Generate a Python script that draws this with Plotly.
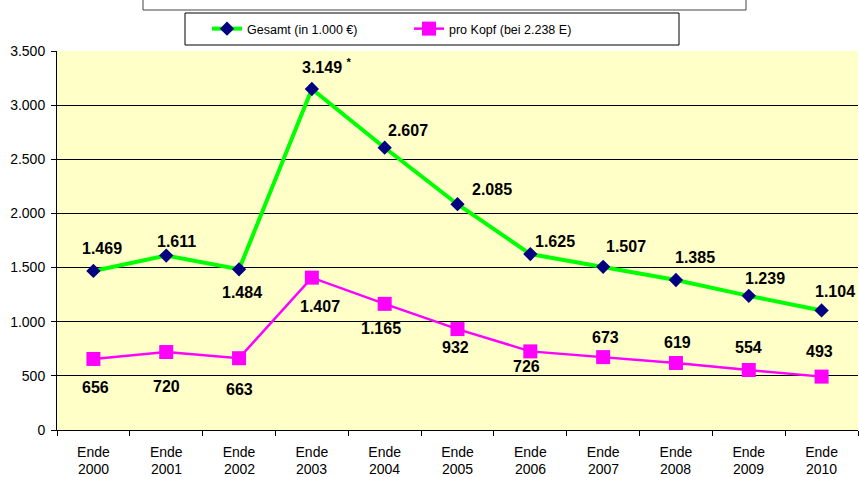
import plotly.graph_objects as go

years = ["2000", "2001", "2002", "2003", "2004", "2005", "2006", "2007", "2008", "2009", "2010"]
tick_prefix = ["Ende"] * len(years)
gesamt = [1469, 1611, 1484, 3149, 2607, 2085, 1625, 1507, 1385, 1239, 1104]
pro_kopf = [656, 720, 663, 1407, 1165, 932, 726, 673, 619, 554, 493]
gesamt_labels = ["1.469", "1.611", "1.484", "3.149 <sup>*</sup>", "2.607", "2.085",
                 "1.625", "1.507", "1.385", "1.239", "1.104"]
pro_kopf_labels = ["656", "720", "663", "1.407", "1.165", "932", "726", "673", "619", "554", "493"]
y_ticks = [0, 500, 1000, 1500, 2000, 2500, 3000, 3500]
y_tick_labels = ["0", "500", "1.000", "1.500", "2.000", "2.500", "3.000", "3.500"]

# label offsets in pixels (dx right, dy down)
g_off = [(9, -22), (10, -14), (3, 23), (15, -23), (23, -17), (34, -15),
         (25, -13), (23, -20), (19, -23), (16, -17), (13, -19)]
p_off = [(2, 29), (0, 34), (0, 31), (8, 29), (-4, 25), (-2, 18),
         (-4, 15), (2, -20), (2, -20), (0, -23), (-2, -25)]

FONT = "Liberation Sans, Arial, sans-serif"

fig = go.Figure()
fig.add_trace(go.Scatter(
    x=years, y=gesamt, name="Gesamt (in 1.000 €)", mode="lines+markers",
    line=dict(color="#00FF00", width=4),
    marker=dict(symbol="diamond", size=11, color="#000080"),
))
fig.add_trace(go.Scatter(
    x=years, y=pro_kopf, name="pro Kopf (bei 2.238 E)", mode="lines+markers",
    line=dict(color="#FF00FF", width=2.5),
    marker=dict(symbol="square", size=14, color="#FF00FF"),
))

annotations = []
# on a category axis, annotation x is the category index
for i, (v, t, (dx, dy)) in enumerate(zip(gesamt, gesamt_labels, g_off)):
    annotations.append(dict(x=i, y=v, xref="x", yref="y", text=t, showarrow=False,
                            xshift=dx, yshift=-dy,
                            font=dict(family=FONT, size=16, color="black", weight="bold")))
for i, (v, t, (dx, dy)) in enumerate(zip(pro_kopf, pro_kopf_labels, p_off)):
    annotations.append(dict(x=i, y=v, xref="x", yref="y", text=t, showarrow=False,
                            xshift=dx, yshift=-dy,
                            font=dict(family=FONT, size=16, color="black", weight="bold")))
# second line of the category labels (years)
for i, c in enumerate(years):
    annotations.append(dict(x=i, y=0, xref="x", yref="paper", text=c, showarrow=False,
                            yanchor="middle", yshift=-39, borderpad=0,
                            font=dict(family=FONT, size=14, color="black")))

W, H = 859, 477
ml, mr, mt, mb = 57, 1, 51, 47
pw, ph = W - ml - mr, H - mt - mb


def px_x(p):
    return (p - ml) / pw


def px_y(p):
    return (H - mb - p) / ph


shapes = [
    # cut-off title box
    dict(type="rect", xref="paper", yref="paper", x0=px_x(143), x1=px_x(746),
         y0=px_y(10), y1=px_y(-5), line=dict(color="#444", width=1), fillcolor="white", layer="above"),
    # legend box
    dict(type="rect", xref="paper", yref="paper", x0=px_x(185), x1=px_x(679),
         y0=px_y(45), y1=px_y(13), line=dict(color="black", width=1), fillcolor="rgba(0,0,0,0)", layer="above"),
]

fig.update_layout(
    width=W, height=H,
    margin=dict(l=ml, r=mr, t=mt, b=mb, autoexpand=False),
    paper_bgcolor="white", plot_bgcolor="#FFFFC8",
    font=dict(family=FONT, size=12, color="black"),
    showlegend=True,
    legend=dict(orientation="h", x=px_x(207), xanchor="left", y=px_y(29), yanchor="middle",
                bgcolor="rgba(0,0,0,0)", borderwidth=0, font=dict(size=12.5),
                entrywidth=157, entrywidthmode="pixels"),
    annotations=annotations,
    shapes=shapes,
)
fig.update_xaxes(
    type="category", range=[-0.5, 10.5],
    tickvals=years, ticktext=tick_prefix,
    showline=True, linecolor="black", linewidth=1,
    ticks="outside", tickson="boundaries", ticklen=5, tickcolor="black",
    ticklabelstandoff=9,
    showgrid=False,
    tickfont=dict(family=FONT, size=14),
)
fig.update_yaxes(
    range=[0, 3500], tickvals=y_ticks, ticktext=y_tick_labels,
    showline=True, linecolor="black", linewidth=1,
    ticks="outside", ticklen=5, tickcolor="black",
    ticklabelstandoff=3,
    showgrid=True, gridcolor="black", gridwidth=1,
    zeroline=False,
    tickfont=dict(size=14),
)

fig.write_html("out.html", config={"displayModeBar": False})

with open("out.html", "r", encoding="utf-8") as f:
    html = f.read()
html = html.replace("<head>", "<head><style>html,body{margin:0;padding:0;overflow:hidden;}</style>", 1)
with open("out.html", "w", encoding="utf-8") as f:
    f.write(html)
